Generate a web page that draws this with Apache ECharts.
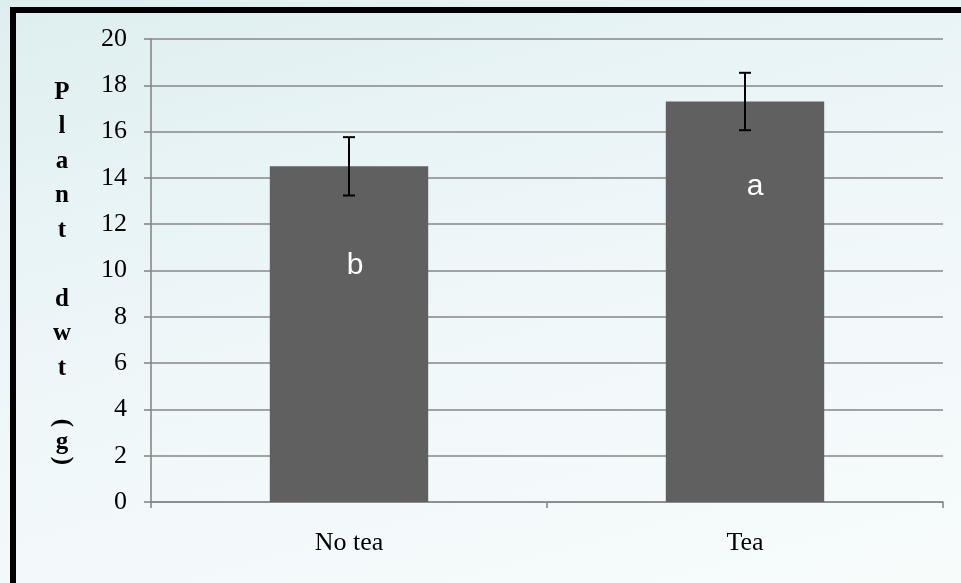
<!DOCTYPE html>
<html>
<head>
<meta charset="utf-8">
<script src="https://cdn.jsdelivr.net/npm/echarts@6/dist/echarts.min.js"></script>
<style>
  html, body { margin: 0; padding: 0; }
  #chart {
    width: 961px; height: 583px;
    background: linear-gradient(165deg, #deeeef 0%, #e9f4f6 30%, #f1f8fa 60%, #f7fcfb 100%);
  }
</style>
</head>
<body>
<div id="chart"></div>
<script>
// Plant dry weight with and without tea treatment
var categories = ['No tea', 'Tea'];
var meanDwt = [14.5, 17.3];
var errDwt = [1.26, 1.24];
var groupLetters = ['b', 'a'];
var yTicks = { min: 0, max: 20, interval: 2 };

var serif = '"Liberation Serif", "Times New Roman", serif';
var sans = '"Liberation Sans", Arial, sans-serif';

var chart = echarts.init(document.getElementById('chart'), null, { renderer: 'canvas' });

// stacked vertical axis title: "Plant dwt (g)"
var titleFont = 'bold 25px ' + serif;
var titleChars = ['P', 'l', 'a', 'n', 't', '', 'd', 'w', 't'];
var titleEls = [];
titleChars.forEach(function (ch, i) {
  if (!ch) return;
  titleEls.push({
    type: 'text', x: 62, y: 92.5 + i * 34.5,
    style: { text: ch, font: titleFont, fill: '#000', align: 'center', verticalAlign: 'middle' }
  });
});
// parentheses lie on their side in stacked text
function sideways(ch, y) {
  return {
    type: 'group', x: 62, y: y, rotation: -Math.PI / 2,
    children: [{
      type: 'text', x: 0, y: 0,
      style: { text: ch, font: titleFont, fill: '#000', align: 'center', verticalAlign: 'middle' }
    }]
  };
}
titleEls.push(sideways('(', 423));
titleEls.push({
  type: 'text', x: 62, y: 443,
  style: { text: 'g', font: titleFont, fill: '#000', align: 'center', verticalAlign: 'middle' }
});
titleEls.push(sideways(')', 461));

// frame lines along the top and left edges
var frameEls = [
  { type: 'rect', shape: { x: 10, y: 7, width: 951, height: 6 }, style: { fill: '#000' } },
  { type: 'rect', shape: { x: 10, y: 7, width: 6, height: 576 }, style: { fill: '#000' } }
];

var letterLabels = [
  { distance: 84, offset: [6, 0] },
  { distance: 70, offset: [10, 0] }
];

var option = {
  animation: false,
  backgroundColor: 'transparent',
  grid: { left: 151, top: 39, right: 18, bottom: 81, containLabel: false },
  xAxis: {
    type: 'category',
    data: categories,
    axisLine: { lineStyle: { color: '#878787', width: 1.6 } },
    axisTick: { show: true, length: 6, lineStyle: { color: '#878787', width: 1.6 } },
    axisLabel: { color: '#000', fontFamily: serif, fontSize: 26, margin: 28 },
    splitLine: { show: false }
  },
  yAxis: {
    type: 'value',
    min: yTicks.min, max: yTicks.max, interval: yTicks.interval,
    axisLine: { show: true, lineStyle: { color: '#878787', width: 1.6 } },
    axisTick: { show: true, length: 7, lineStyle: { color: '#878787', width: 1.6 } },
    axisLabel: { color: '#000', fontFamily: serif, fontSize: 26, margin: 24 },
    splitLine: { show: true, lineStyle: { color: '#878787', width: 1.6 } }
  },
  series: [
    {
      type: 'bar',
      barWidth: '40%',
      itemStyle: { color: '#606060' },
      data: meanDwt.map(function (v, i) {
        return {
          value: v,
          label: {
            show: true,
            position: 'insideTop',
            distance: letterLabels[i].distance,
            offset: letterLabels[i].offset,
            formatter: groupLetters[i],
            color: '#fff',
            fontFamily: sans,
            fontSize: 30
          }
        };
      })
    },
    {
      type: 'custom',
      z: 5,
      data: meanDwt.map(function (v, i) { return [i, v - errDwt[i], v + errDwt[i]]; }),
      renderItem: function (params, api) {
        var lo = api.coord([api.value(0), api.value(1)]);
        var hi = api.coord([api.value(0), api.value(2)]);
        var cap = 6;
        var st = { stroke: '#000', lineWidth: 2 };
        return {
          type: 'group',
          children: [
            { type: 'line', shape: { x1: lo[0], y1: lo[1], x2: hi[0], y2: hi[1] }, style: st },
            { type: 'line', shape: { x1: hi[0] - cap, y1: hi[1], x2: hi[0] + cap, y2: hi[1] }, style: st },
            { type: 'line', shape: { x1: lo[0] - cap, y1: lo[1], x2: lo[0] + cap, y2: lo[1] }, style: st }
          ]
        };
      }
    }
  ],
  graphic: frameEls.concat(titleEls)
};

chart.setOption(option);
</script>
</body>
</html>
